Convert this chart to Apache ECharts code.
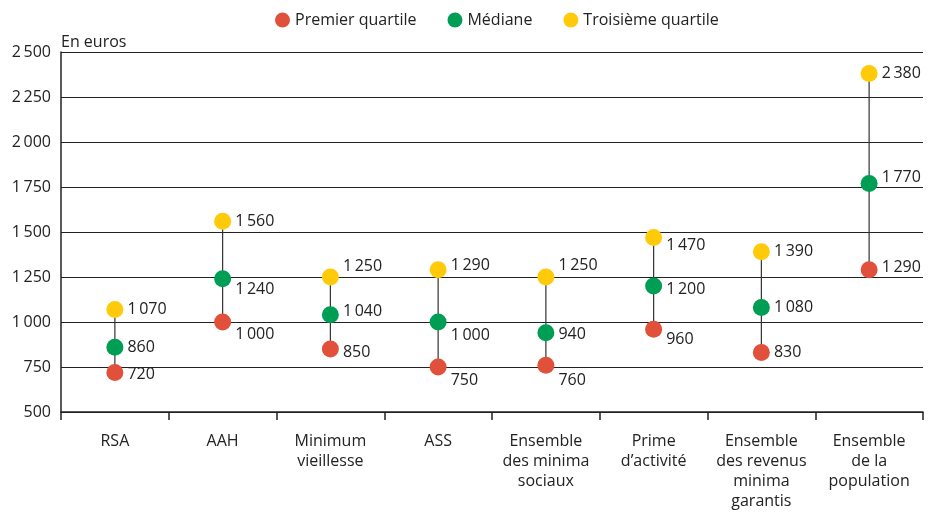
<!DOCTYPE html>
<html><head><meta charset="utf-8">
<script src="https://cdn.jsdelivr.net/npm/echarts@6/dist/echarts.min.js"></script>
<style>html,body{margin:0;padding:0;background:#fff}#c{width:930px;height:512px}</style>
</head><body><div id="c"></div>
<script>
var categories = ['RSA','AAH','Minimum\nvieillesse','ASS','Ensemble\ndes minima\nsociaux','Prime\nd\u2019activit\u00e9','Ensemble\ndes revenus\nminima\ngarantis','Ensemble\nde la\npopulation'];
var q1 = [720, 1000, 850, 750, 760, 960, 830, 1290];
var median = [860, 1240, 1040, 1000, 940, 1200, 1080, 1770];
var q3 = [1070, 1560, 1250, 1290, 1250, 1470, 1390, 2380];
var yTicks = {min: 500, max: 2500, interval: 250};

// label offsets (styling only)
var offQ1 = [[0,2],[0,12],[0,3],[0,13],[0,15],[0,10],[0,0],[0,-2]];
var offMed = [[0,0],[0,11],[0,-3],[0,13],[0,2],[0,3],[0,0],[0,-6]];
var offQ3 = [[0,0],[0,0],[0,-11],[0,-4],[0,-12],[0,8],[0,0],[0,0]];

var FONT = '"Open Sans"';
var FS = 16;
function fmt(v){ var s = String(v); return s.length > 3 ? s.slice(0, s.length-3) + '\u2009' + s.slice(-3) : s; }
function pts(arr, off){ return arr.map(function(v,i){ return {value:[i,v], label:{offset:off[i]}}; }); }

var chart = echarts.init(document.getElementById('c'));
var lblStyle = {show:true, position:'right', distance:4, color:'#222', fontFamily:FONT, fontSize:FS, formatter:function(p){return fmt(p.value[1]);}};
chart.setOption({
  animation:false,
  textStyle:{fontFamily:FONT},
  legend:{top:7, left:270, icon:'circle', itemWidth:15, itemHeight:15, itemGap:31,
    textStyle:{fontFamily:FONT, fontSize:FS, color:'#222'},
    data:['Premier quartile','M\u00e9diane','Troisi\u00e8me quartile']},
  grid:{left:61, right:7, top:52, bottom:100, containLabel:false, outerBoundsMode:'none'},
  xAxis:{type:'category', data:categories, boundaryGap:true,
    axisLine:{lineStyle:{color:'#222', width:1.5}},
    axisTick:{show:true, length:8, lineStyle:{color:'#222', width:1.5}},
    axisLabel:{color:'#222', fontFamily:FONT, fontSize:FS, lineHeight:20, margin:19, interval:0}},
  yAxis:{type:'value', min:yTicks.min, max:yTicks.max, interval:yTicks.interval,
    name:'En euros', nameLocation:'end', nameGap:2,
    nameTextStyle:{align:'left', color:'#222', fontFamily:FONT, fontSize:FS, padding:[0,0,0,0]},
    axisLine:{show:true, lineStyle:{color:'#222', width:1.5}},
    axisTick:{show:false},
    splitLine:{lineStyle:{color:'#222', width:1}},
    axisLabel:{color:'#222', fontFamily:FONT, fontSize:FS, margin:10, formatter:function(v){return fmt(v);}}},
  series:[
    {type:'custom', silent:true, z:1,
      data: q1.map(function(v,i){return [i, v, q3[i]];}),
      encode:{x:0, y:[1,2]},
      renderItem:function(params, api){
        var a = api.coord([api.value(0), api.value(1)]);
        var b = api.coord([api.value(0), api.value(2)]);
        return {type:'line', shape:{x1:a[0], y1:a[1], x2:b[0], y2:b[1]}, style:{stroke:'#333', lineWidth:1.2}};
      }},
    {name:'Premier quartile', type:'scatter', z:3, symbolSize:17, itemStyle:{color:'#E1503B', opacity:1}, label:lblStyle, data:pts(q1, offQ1)},
    {name:'M\u00e9diane', type:'scatter', z:3, symbolSize:17, itemStyle:{color:'#009D55', opacity:1}, label:lblStyle, data:pts(median, offMed)},
    {name:'Troisi\u00e8me quartile', type:'scatter', z:3, symbolSize:17, itemStyle:{color:'#FFCA0A', opacity:1}, label:lblStyle, data:pts(q3, offQ3)}
  ]
});
</script></body></html>
